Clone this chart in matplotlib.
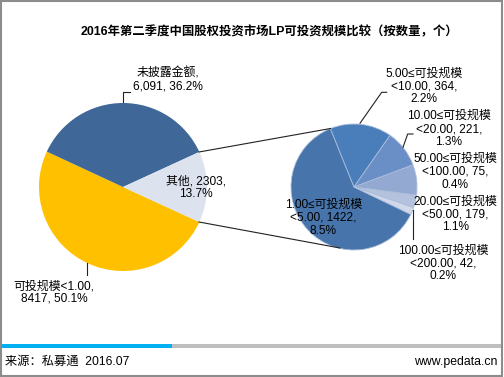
import matplotlib
matplotlib.use('Agg')
import matplotlib.pyplot as plt
from matplotlib.patches import Rectangle

plt.rcParams['font.family'] = ['Liberation Sans', 'Noto Sans CJK SC', 'DejaVu Sans']

# Data
title = "2016年第二季度中国股权投资市场LP可投资规模比较（按数量，个）"
main_names = ["可投规模<1.00", "未披露金额", "其他"]
main_values = [8417, 6091, 2303]
main_label_text = ["可投规模<1.00,\n8417, 50.1%", "未披露金额,\n6,091, 36.2%", "其他, 2303,\n13.7%"]
main_colors = ["#FFC000", "#3F6797", "#DCE3EF"]

sub_names = ["1.00≤可投规模<5.00", "5.00≤可投规模<10.00", "10.00≤可投规模<20.00",
             "20.00≤可投规模<50.00", "50.00≤可投规模<100.00", "100.00≤可投规模<200.00"]
sub_values = [1422, 364, 221, 179, 75, 42]
sub_label_text = ["1.00≤可投规模\n<5.00, 1422,\n8.5%",
                  "5.00≤可投规模\n<10.00, 364,\n2.2%",
                  "10.00≤可投规模\n<20.00, 221,\n1.3%",
                  "20.00≤可投规模\n<50.00, 179,\n1.1%",
                  "50.00≤可投规模\n<100.00, 75,\n0.4%",
                  "100.00≤可投规模\n<200.00, 42,\n0.2%"]
sub_colors = ["#4674AB", "#4A7EBB", "#6A8EC6", "#94A9D2", "#B5C2DE", "#D0D8EA"]

W, H = 504, 377
fig = plt.figure(figsize=(W / 100, H / 100), dpi=100)
ax = fig.add_axes([0, 0, 1, 1])

FS = 8.6

def py(y):
    # image row -> plot y
    return H - y

# main pie: "其他" centred on the right, drawn clockwise
main_total = sum(main_values)
other_half = 360 * main_values[2] / main_total / 2
mc = (123, py(187))
ax.pie(main_values, colors=main_colors, startangle=-other_half, counterclock=False,
       center=mc, radius=84, wedgeprops=dict(linewidth=0))

# secondary pie
sub_total = sum(sub_values)
sub_start = 112 + 360 * sub_values[0] / sub_total
sc = (354, py(187))
ax.pie(sub_values, colors=sub_colors, startangle=sub_start, counterclock=False,
       center=sc, radius=63, wedgeprops=dict(linewidth=0.6, edgecolor="#A9BCDA"))

# connector lines
ax.plot([199, 330.5], [py(152), py(128.5)], color="#222222", lw=0.8)
ax.plot([199, 340], [py(222), py(248)], color="#222222", lw=0.8)

# main labels
main_pos = [(54, py(292.5)), (168, py(80)), (196, py(188))]
for (x, y), t in zip(main_pos, main_label_text):
    ax.text(x, y, t, ha="center", va="center", fontsize=FS, linespacing=1.1)

sub_pos = [(323.5, py(218)), (424, py(86.5)), (449, py(129)),
           (455.5, py(214.5)), (455.5, py(172)), (443.5, py(263.5))]
for (x, y), t in zip(sub_pos, sub_label_text):
    ax.text(x, y, t, ha="center", va="center", fontsize=FS, linespacing=1.1)

# leader lines
lc = dict(color="#222222", lw=0.8)
ax.plot([122.7, 122.7, 130], [py(102), py(92.3), py(92.3)], **lc)
ax.plot([87.3, 87.3], [py(263), py(275)], **lc)
ax.plot([360, 381.7, 386.7], [py(123.3), py(92.3), py(92.3)], **lc)
ax.plot([403, 407.7, 413], [py(147.3), py(134), py(134)], **lc)
ax.plot([413.3, 413.3], [py(210), py(239.3)], **lc)

# title
ax.text(269, py(32), title, ha="center", va="center", fontsize=8.9, fontweight="bold")

# bottom bar and footer
ax.add_patch(Rectangle((0, py(347.5)), 172, 3.5, color="#00B0F0", lw=0))
ax.add_patch(Rectangle((172, py(347.5)), 331, 3.5, color="#BFBFBF", lw=0))
ax.text(5, py(362), "来源：私募通  2016.07", ha="left", va="center", fontsize=8.8)
ax.text(497, py(362), "www.pedata.cn", ha="right", va="center", fontsize=8.8)

# outer frame
ax.add_patch(Rectangle((0.8, py(376)), 501.5, 375, fill=False, edgecolor="#8C8C8C", lw=1.5))

ax.set_xlim(0, W)
ax.set_ylim(0, H)
ax.set_aspect("auto")
ax.axis("off")

fig.savefig("out.png", dpi=100, facecolor="white")
